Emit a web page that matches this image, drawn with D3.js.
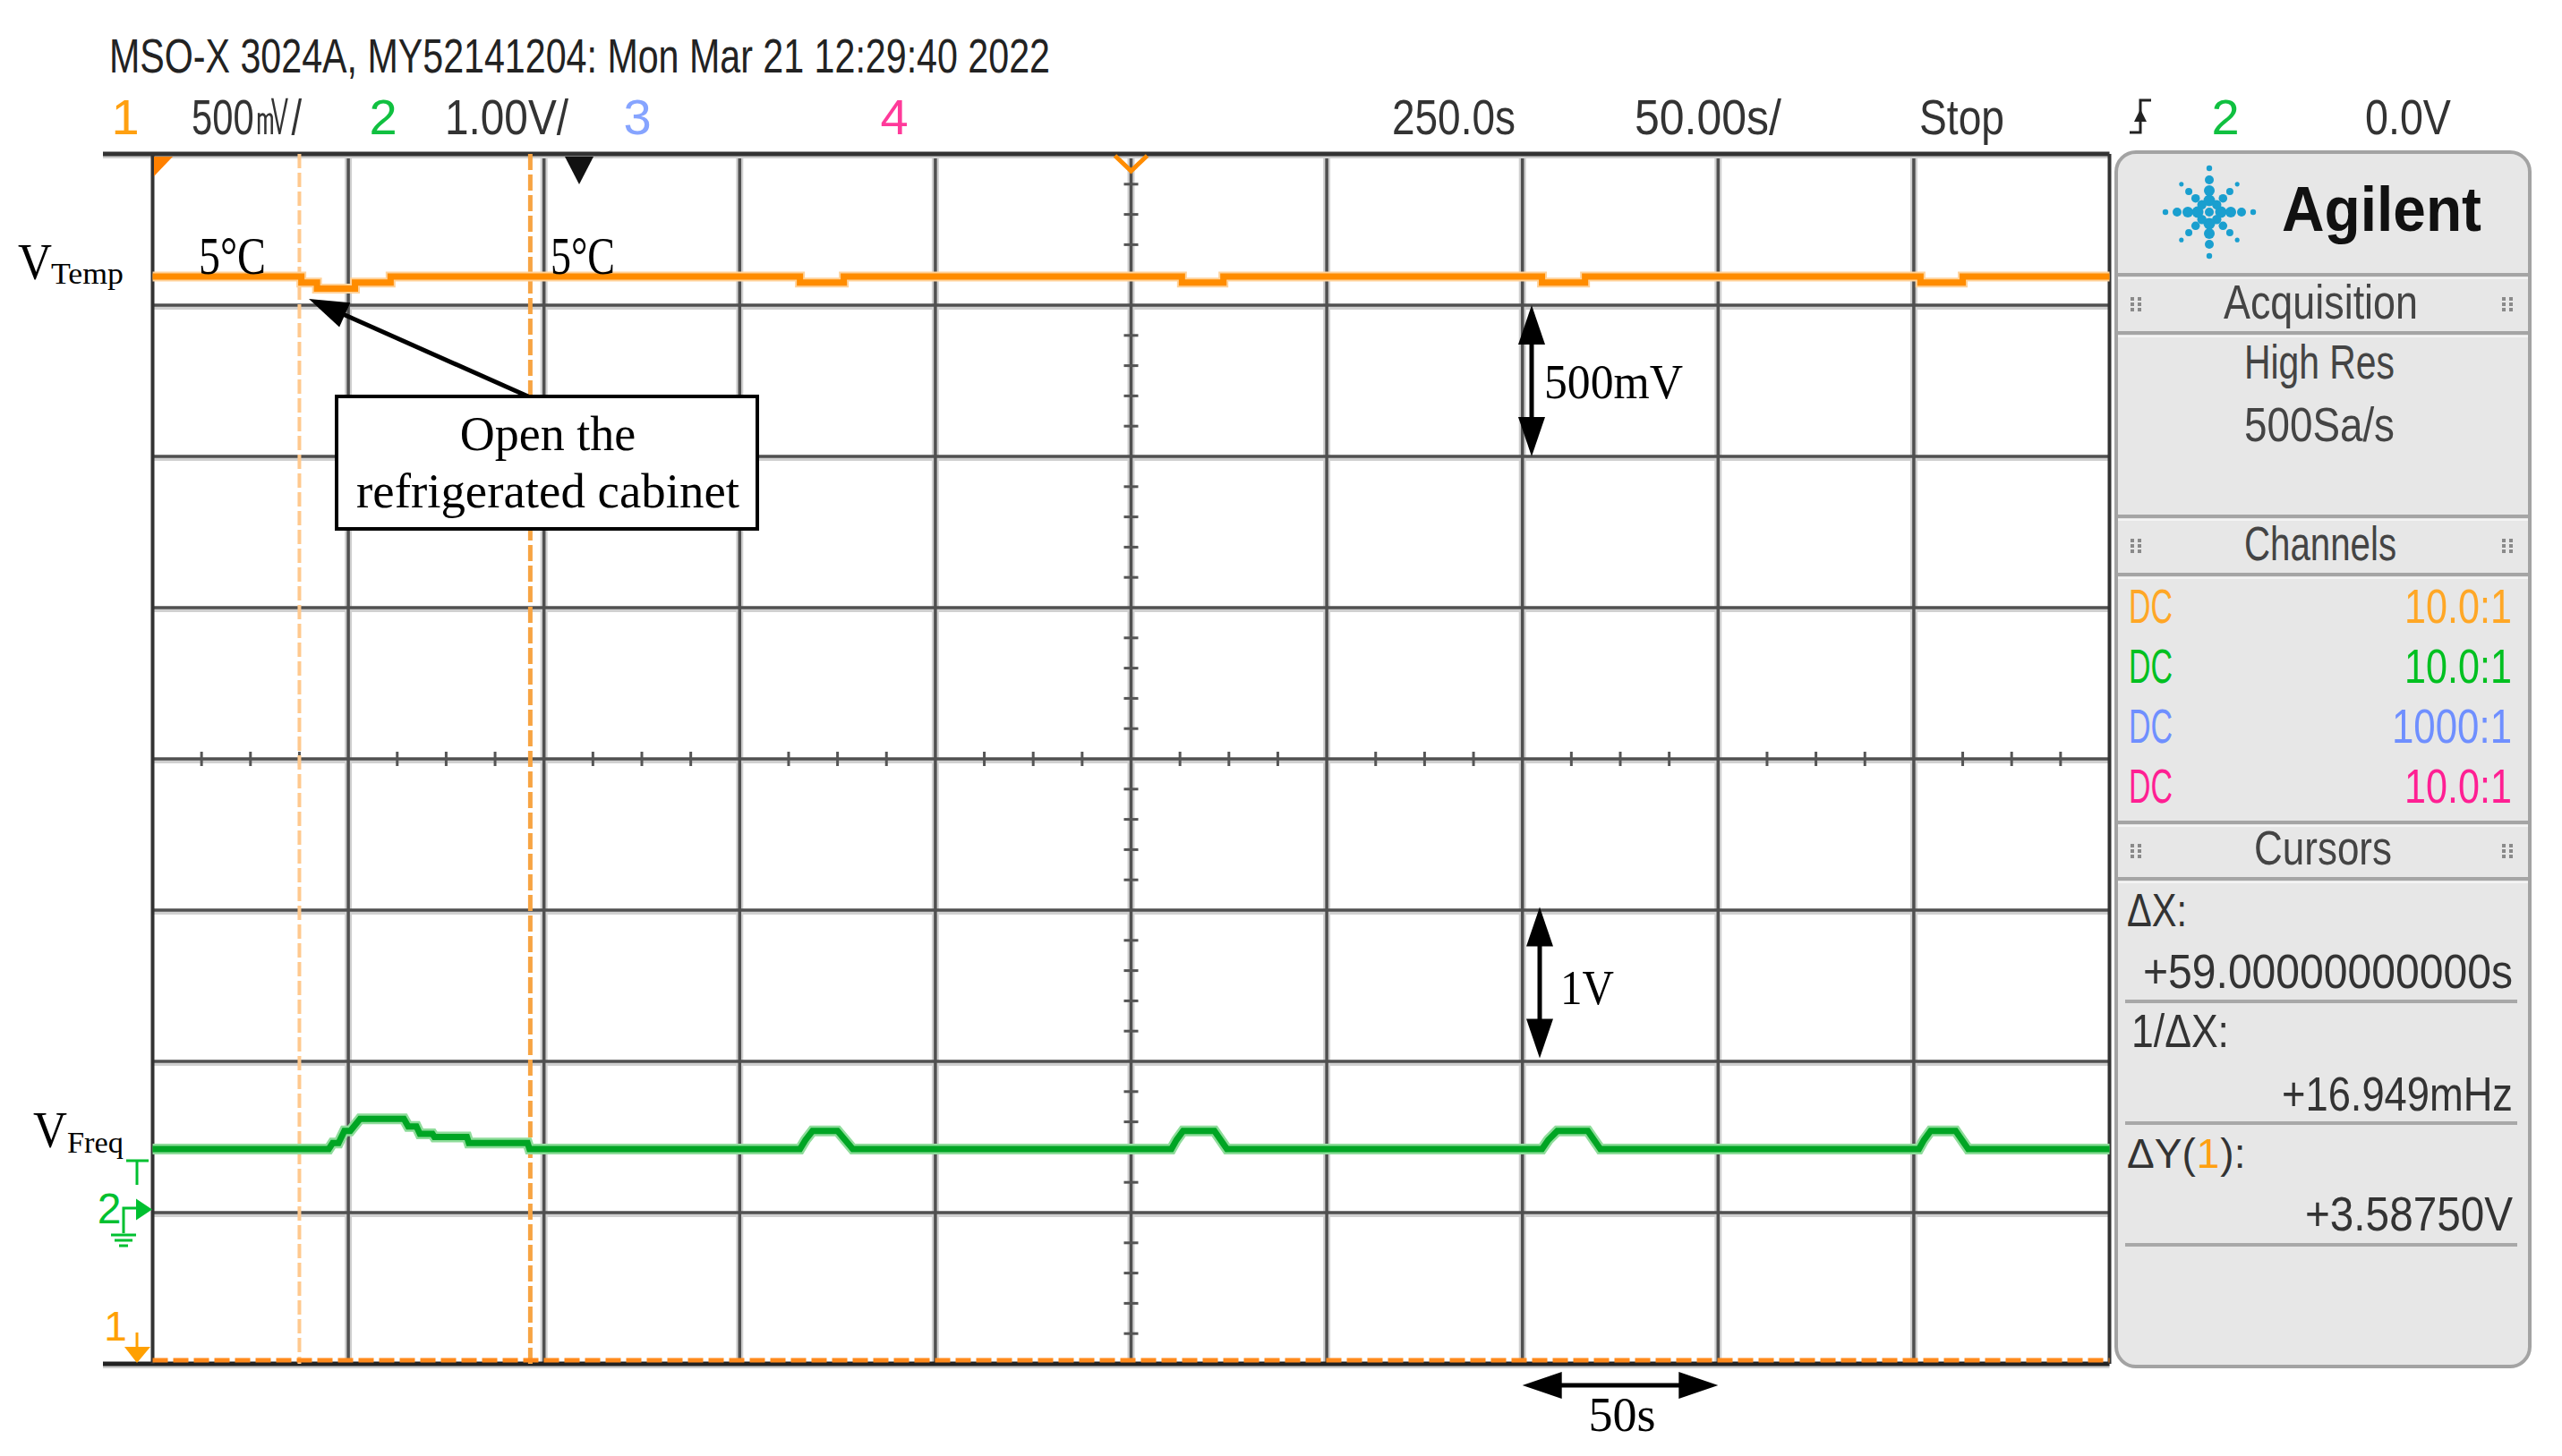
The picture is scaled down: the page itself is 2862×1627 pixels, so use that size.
<!DOCTYPE html>
<html>
<head>
<meta charset="utf-8">
<script src="https://cdnjs.cloudflare.com/ajax/libs/d3/7.8.5/d3.min.js"></script>
<style>
body { margin: 0; background: #fff; }
svg text { font-family: "Liberation Sans", Arial, sans-serif; }
svg text.serif { font-family: "Liberation Serif", "Times New Roman", serif; }
</style>
</head>
<body>
<div id="scope"></div>
<script>

var timeDomain = [0, 500];        // 10 div x 50.00 s/
var ch1Domain = [0, 4];           // 8 div x 500 mV/, ground at bottom
var ch2Domain = [-1.02, 6.98];    // 8 div x 1.00 V/, ground ~1 div above bottom

// channel 1 (V_Temp), [time s, volts]
var ch1Trace = [
    [0, 3.595], [38, 3.595], [38, 3.575], [42, 3.575], [42, 3.555], [51.7, 3.555],
    [51.7, 3.575], [60.8, 3.575], [60.8, 3.595],
    [165.4, 3.595], [165.4, 3.575], [176.6, 3.575], [176.6, 3.595],
    [263.0, 3.595], [263.0, 3.575], [273.6, 3.575], [273.6, 3.595],
    [355.0, 3.595], [355.0, 3.575], [366.0, 3.575], [366.0, 3.595],
    [451.7, 3.595], [451.7, 3.575], [462.5, 3.575], [462.5, 3.595],
    [500, 3.595]
];

// channel 2 (V_Freq), [time s, volts]
var ch2Trace = [
    [0, 0.40], [45.0, 0.40], [46.0, 0.44], [47.5, 0.44], [49.0, 0.52], [50.5, 0.52],
    [53.0, 0.60], [64.2, 0.60], [65.3, 0.55], [67.4, 0.55], [68.3, 0.50], [71.5, 0.50],
    [72.0, 0.48], [80.3, 0.48], [80.8, 0.44], [95.8, 0.44], [96.3, 0.40],
    [165.4, 0.40], [166.8, 0.46], [168.6, 0.52], [175.0, 0.52], [178.9, 0.40],
    [260.3, 0.40], [261.6, 0.46], [263.3, 0.52], [271.3, 0.52], [274.5, 0.40],
    [355.0, 0.40], [356.6, 0.46], [358.9, 0.52], [366.7, 0.52], [369.9, 0.40],
    [451.3, 0.40], [452.6, 0.46], [454.3, 0.52], [460.7, 0.52], [463.9, 0.40],
    [500, 0.40]
];

var cursorT = [37.5, 96.5];       // X cursors, dX = 59 s
var cursorV1 = [0];               // Y cursor on channel 1 (other one sits on the trace)

var channelCoupling = ["DC", "DC", "DC", "DC"];
var channelProbe = ["10.0:1", "10.0:1", "1000:1", "10.0:1"];
var channelColor = ["#ffa726", "#00c020", "#6f8fff", "#ff1f93"];
var cursorNames = ["\u0394X:", "1/\u0394X:", "\u0394Y(", "1", "):"];
var cursorReadouts = ["+59.00000000000s", "+16.949mHz", "+3.58750V"];

var W = 2862, H = 1627;
var svg = d3.select("#scope").append("svg")
    .attr("width", W)
    .attr("height", H);

svg.append("rect").attr("width", W).attr("height", H).attr("fill", "#fff");

var x = d3.scaleLinear().domain(timeDomain).range([170.5, 2356.5]);
var y1 = d3.scaleLinear().domain(ch1Domain).range([1524, 172]);
var y2 = d3.scaleLinear().domain(ch2Domain).range([1524, 172]);

// text helper, condensed with textLength where a width is given
function txt(parent, s, px, py, size, w, fill, cls, anchor) {
    var t = parent.append("text")
        .attr("x", px)
        .attr("y", py)
        .attr("font-size", size)
        .attr("fill", fill || "#333")
        .text(s);
    if (cls) t.attr("class", cls);
    if (anchor) t.attr("text-anchor", anchor);
    if (w) t.attr("textLength", w).attr("lengthAdjust", "spacingAndGlyphs");
    return t;
}

// ---- graticule ----
var grid = svg.append("g");
var tGrid = d3.range(timeDomain[0], timeDomain[1] + 1, 50);
var vGrid = d3.range(ch1Domain[0], ch1Domain[1] + 0.01, 0.5);

grid.selectAll("line.vs").data(tGrid.slice(1, -1)).enter().append("line")
    .attr("x1", d => x(d)).attr("x2", d => x(d))
    .attr("y1", y1(4)).attr("y2", y1(0))
    .attr("stroke", "#d0d0d0").attr("stroke-width", 8);
grid.selectAll("line.hs").data(vGrid.slice(1, -1)).enter().append("line")
    .attr("x1", x(0)).attr("x2", x(500))
    .attr("y1", d => y1(d) + 2).attr("y2", d => y1(d) + 2)
    .attr("stroke", "#d0d0d0").attr("stroke-width", 6);
grid.selectAll("line.v").data(tGrid.slice(1, -1)).enter().append("line")
    .attr("x1", d => x(d)).attr("x2", d => x(d))
    .attr("y1", y1(4)).attr("y2", y1(0))
    .attr("stroke", "#505050").attr("stroke-width", 3.5);
grid.selectAll("line.h").data(vGrid.slice(1, -1)).enter().append("line")
    .attr("x1", x(0)).attr("x2", x(500))
    .attr("y1", d => y1(d)).attr("y2", d => y1(d))
    .attr("stroke", "#505050").attr("stroke-width", 3.5);

// minor ticks on the centre axes
var tMinor = d3.range(timeDomain[0], timeDomain[1] + 0.1, 12.5).filter(d => d % 50 !== 0);
var vMinor = d3.range(ch1Domain[0], ch1Domain[1] + 0.001, 0.1).filter(d => Math.abs(d / 0.5 - Math.round(d / 0.5)) > 0.01);
grid.selectAll("line.tm").data(tMinor).enter().append("line")
    .attr("x1", d => x(d)).attr("x2", d => x(d))
    .attr("y1", y1(2) - 8).attr("y2", y1(2) + 8)
    .attr("stroke", "#555").attr("stroke-width", 3);
grid.selectAll("line.vm").data(vMinor).enter().append("line")
    .attr("x1", x(250) - 8).attr("x2", x(250) + 8)
    .attr("y1", d => y1(d)).attr("y2", d => y1(d))
    .attr("stroke", "#555").attr("stroke-width", 3);

// borders
grid.append("line").attr("x1", 115).attr("x2", x(500)).attr("y1", y1(4) + 3).attr("y2", y1(4) + 3)
    .attr("stroke", "#cfcfcf").attr("stroke-width", 4);
grid.append("line").attr("x1", 115).attr("x2", x(500)).attr("y1", y1(4)).attr("y2", y1(4))
    .attr("stroke", "#333").attr("stroke-width", 5);
grid.append("line").attr("x1", 115).attr("x2", x(500)).attr("y1", y1(0) + 3).attr("y2", y1(0) + 3)
    .attr("stroke", "#cfcfcf").attr("stroke-width", 4);
grid.append("line").attr("x1", 115).attr("x2", x(500)).attr("y1", y1(0)).attr("y2", y1(0))
    .attr("stroke", "#222").attr("stroke-width", 5);
grid.append("line").attr("x1", x(0)).attr("x2", x(0)).attr("y1", y1(4)).attr("y2", y1(0))
    .attr("stroke", "#333").attr("stroke-width", 4);
grid.append("line").attr("x1", x(500)).attr("x2", x(500)).attr("y1", y1(4)).attr("y2", y1(0))
    .attr("stroke", "#333").attr("stroke-width", 4);

// ---- cursors ----
svg.append("line")
    .attr("x1", x(cursorT[0])).attr("x2", x(cursorT[0]))
    .attr("y1", y1(4)).attr("y2", y1(0))
    .attr("stroke", "#ffc98e").attr("stroke-width", 4).attr("stroke-dasharray", "16,5");
svg.append("line")
    .attr("x1", x(cursorT[1])).attr("x2", x(cursorT[1]))
    .attr("y1", y1(4)).attr("y2", y1(0))
    .attr("stroke", "#f7a443").attr("stroke-width", 5).attr("stroke-dasharray", "18,5");
svg.selectAll("line.yc").data(cursorV1).enter().append("line")
    .attr("x1", x(0)).attr("x2", x(500))
    .attr("y1", d => y1(d) - 4).attr("y2", d => y1(d) - 4)
    .attr("stroke", "#ff8a1c").attr("stroke-width", 5).attr("stroke-dasharray", "17,6");

// ---- traces ----
var line1 = d3.line().x(d => x(d[0])).y(d => y1(d[1]));
var line2 = d3.line().x(d => x(d[0])).y(d => y2(d[1]));

svg.append("path").datum(ch1Trace).attr("d", line1)
    .attr("fill", "none").attr("stroke", "#ffd29a").attr("stroke-width", 11);
svg.append("path").datum(ch1Trace).attr("d", line1)
    .attr("fill", "none").attr("stroke", "#ff8c00").attr("stroke-width", 7);

svg.append("path").datum(ch2Trace).attr("d", line2)
    .attr("fill", "none").attr("stroke", "#8fdc9b").attr("stroke-width", 12);
svg.append("path").datum(ch2Trace).attr("d", line2)
    .attr("fill", "none").attr("stroke", "#00a524").attr("stroke-width", 7);

// ---- scope markers ----
svg.append("path").attr("d", "M172,175 L193,175 L172,197 Z").attr("fill", "#ff8000");
svg.append("path").attr("d", "M631,175 L663,175 L647,206 Z").attr("fill", "#111");
svg.append("path")
    .attr("d", "M" + (x(250) - 18) + ",174 L" + x(250) + ",191 L" + (x(250) + 18) + ",174")
    .attr("fill", "none").attr("stroke", "#ff8c00").attr("stroke-width", 5);

// channel 2 trigger level / ground markers
var g2 = svg.append("g").attr("stroke", "#00c030").attr("fill", "none").attr("stroke-width", 3);
g2.append("path").attr("d", "M141,1297 L166,1297 M153,1297 L153,1324");
g2.append("path").attr("d", "M138,1378 L138,1350 L153,1350");
g2.append("path").attr("d", "M124,1380 L152,1380 M128,1386 L148,1386 M133,1392 L143,1392").attr("stroke-width", 3);
svg.append("path").attr("d", "M152," + (y2(0) - 12) + " L170," + y2(0) + " L152," + (y2(0) + 12) + " Z").attr("fill", "#00c030");
txt(svg, "2", 122, 1367, 48, null, "#00c030", null, "middle");

// channel 1 ground marker
svg.append("line").attr("x1", 153).attr("x2", 153).attr("y1", 1489).attr("y2", 1508)
    .attr("stroke", "#ffa000").attr("stroke-width", 3);
svg.append("path").attr("d", "M139,1505 L168,1505 L153,1523 Z").attr("fill", "#ffa000");
txt(svg, "1", 129, 1498, 46, null, "#ffa000", null, "middle");

// ---- header lines ----
txt(svg, "MSO-X 3024A, MY52141204: Mon Mar 21 12:29:40 2022", 122, 81, 54, 1051, "#222");
txt(svg, "1", 140, 150, 56, null, "#ffa010", null, "middle");
txt(svg, "500\u33B7/", 214, 150, 56, 123, "#333");
txt(svg, "2", 428, 150, 56, null, "#10c040", null, "middle");
txt(svg, "1.00V/", 497, 150, 56, 138, "#333");
txt(svg, "3", 712, 150, 56, null, "#86a4ff", null, "middle");
txt(svg, "4", 999, 150, 56, null, "#ff3a9a", null, "middle");
txt(svg, "250.0s", 1555, 150, 56, 138, "#333");
txt(svg, "50.00s/", 1826, 150, 56, 164, "#333");
txt(svg, "Stop", 2144, 150, 56, 95, "#333");
svg.append("path").attr("d", "M2379,148 L2391,148 L2391,112 L2403,112")
    .attr("fill", "none").attr("stroke", "#222").attr("stroke-width", 3);
svg.append("path").attr("d", "M2384,136 L2398,136 L2391,122 Z").attr("fill", "#222");
txt(svg, "2", 2486, 150, 56, null, "#10c040", null, "middle");
txt(svg, "0.0V", 2642, 150, 56, 96, "#333");

// ---- annotations ----
var ann = svg.append("g");
txt(ann, "V", 20, 312, 56, 38, "#000", "serif");
txt(ann, "Temp", 57, 317, 34, 81, "#000", "serif");
txt(ann, "V", 37, 1282, 56, 38, "#000", "serif");
txt(ann, "Freq", 75, 1288, 34, 63, "#000", "serif");
txt(ann, "5\u00B0C", 222, 306, 60, 75, "#000", "serif");
txt(ann, "5\u00B0C", 615, 306, 60, 72, "#000", "serif");

function head(tx, ty, dx, dy, len, half) {
    var bx = tx - dx * len, by = ty - dy * len;
    return "M" + tx + "," + ty + " L" + (bx - dy * half) + "," + (by + dx * half) +
        " L" + (bx + dy * half) + "," + (by - dx * half) + " Z";
}
function arrow(g, xa, ya, xb, yb, both) {
    var L = Math.hypot(xb - xa, yb - ya), dx = (xb - xa) / L, dy = (yb - ya) / L;
    g.append("line").attr("x1", xa + (both ? dx * 30 : 0)).attr("y1", ya + (both ? dy * 30 : 0))
        .attr("x2", xb - dx * 30).attr("y2", yb - dy * 30)
        .attr("stroke", "#000").attr("stroke-width", 5);
    g.append("path").attr("d", head(xb, yb, dx, dy, 44, 15)).attr("fill", "#000");
    if (both) g.append("path").attr("d", head(xa, ya, -dx, -dy, 44, 15)).attr("fill", "#000");
}

// "open the cabinet" call-out
arrow(ann, 590, 443, 345, 334, false);
ann.append("rect").attr("x", 376).attr("y", 443).attr("width", 470).attr("height", 148)
    .attr("fill", "#fff").attr("stroke", "#000").attr("stroke-width", 4);
txt(ann, "Open the", 612, 503, 54, null, "#000", "serif", "middle");
txt(ann, "refrigerated cabinet", 612, 567, 54, 428, "#000", "serif", "middle");

// scale call-outs
arrow(ann, 1711, y1(3.5), 1711, y1(3.0), true);
txt(ann, "500mV", 1725, 445, 54, 155, "#000", "serif");
arrow(ann, 1720, y2(2), 1720, y2(1), true);
txt(ann, "1V", 1743, 1122, 54, 60, "#000", "serif");
arrow(ann, x(350), 1548, x(400), 1548, true);
txt(ann, "50s", 1812, 1599, 54, null, "#000", "serif", "middle");

// ---- side panel ----
var panel = svg.append("g");
panel.append("rect").attr("x", 2364).attr("y", 170).attr("width", 462).attr("height", 1357)
    .attr("rx", 22).attr("fill", "#e7e7e7").attr("stroke", "#a3a3a3").attr("stroke-width", 4);

[307, 372, 577, 642, 919, 982].forEach(function (yy) {
    panel.append("line").attr("x1", 2366).attr("x2", 2824).attr("y1", yy).attr("y2", yy)
        .attr("stroke", "#a5a5a5").attr("stroke-width", 4);
    panel.append("line").attr("x1", 2366).attr("x2", 2824).attr("y1", yy + 4).attr("y2", yy + 4)
        .attr("stroke", "#f4f4f4").attr("stroke-width", 2);
});
[1119, 1255, 1391].forEach(function (yy) {
    panel.append("line").attr("x1", 2374).attr("x2", 2812).attr("y1", yy).attr("y2", yy)
        .attr("stroke", "#a8a8a8").attr("stroke-width", 4);
});

// Agilent spark
var spark = panel.append("g").attr("fill", "#1a9fcf");
d3.range(8).forEach(function (k) {
    var a = k * Math.PI / 4;
    [[13, 6.5], [24, 6], [36, 5], [49, 3.2]].forEach(function (p) {
        spark.append("circle")
            .attr("cx", 2468 + Math.cos(a) * p[0] * (k % 2 ? 0.9 : 1))
            .attr("cy", 237 + Math.sin(a) * p[0] * (k % 2 ? 0.9 : 1))
            .attr("r", p[1] * (k % 2 ? 0.8 : 1));
    });
});
spark.append("circle").attr("cx", 2468).attr("cy", 237).attr("r", 5);
txt(panel, "Agilent", 2549, 258, 70, 223, "#111").attr("font-weight", "bold");

// grip dots on section headers
function grip(cx, cy) {
    [-1, 1].forEach(function (i) {
        [-6, 0, 6].forEach(function (j) {
            panel.append("rect").attr("x", cx + i * 4 - 2).attr("y", cy + j - 2)
                .attr("width", 4).attr("height", 4).attr("fill", "#8a8a8a");
        });
    });
}
[[340, "Acquisition", 2484, 356, 217], [610, "Channels", 2507, 626, 170], [951, "Cursors", 2518, 966, 154]].forEach(function (h) {
    grip(2386, h[0]);
    grip(2801, h[0]);
    txt(panel, h[1], h[2], h[3], 54, h[4], "#444");
});

txt(panel, "High Res", 2507, 423, 54, 168, "#444");
txt(panel, "500Sa/s", 2507, 493, 54, 168, "#444");

channelCoupling.forEach(function (c, i) {
    var by = 696 + i * 67;
    txt(panel, c, 2378, by, 54, 49, channelColor[i]);
    txt(panel, channelProbe[i], 2806, by, 54, channelProbe[i] === "1000:1" ? 134 : 120, channelColor[i], null, "end");
});

// cursor readouts
txt(panel, cursorNames[0], 2376, 1035, 52, 67, "#333");
txt(panel, cursorReadouts[0], 2807, 1104, 54, 413, "#333", null, "end");
txt(panel, cursorNames[1], 2381, 1170, 52, 109, "#333");
txt(panel, cursorReadouts[1], 2807, 1241, 54, 258, "#333", null, "end");
// dY(1): in natural widths so the pieces sit side by side
var dyA = txt(panel, cursorNames[2], 2376, 1305, 46, null, "#333");
var wA = dyA.node().getComputedTextLength();
var dyB = txt(panel, cursorNames[3], 2376 + wA + 1, 1305, 46, null, "#ffa010");
var wB = dyB.node().getComputedTextLength();
txt(panel, cursorNames[4], 2376 + wA + wB + 2, 1305, 46, null, "#333");
txt(panel, cursorReadouts[2], 2807, 1375, 54, 232, "#333", null, "end");

</script>
</body>
</html>
